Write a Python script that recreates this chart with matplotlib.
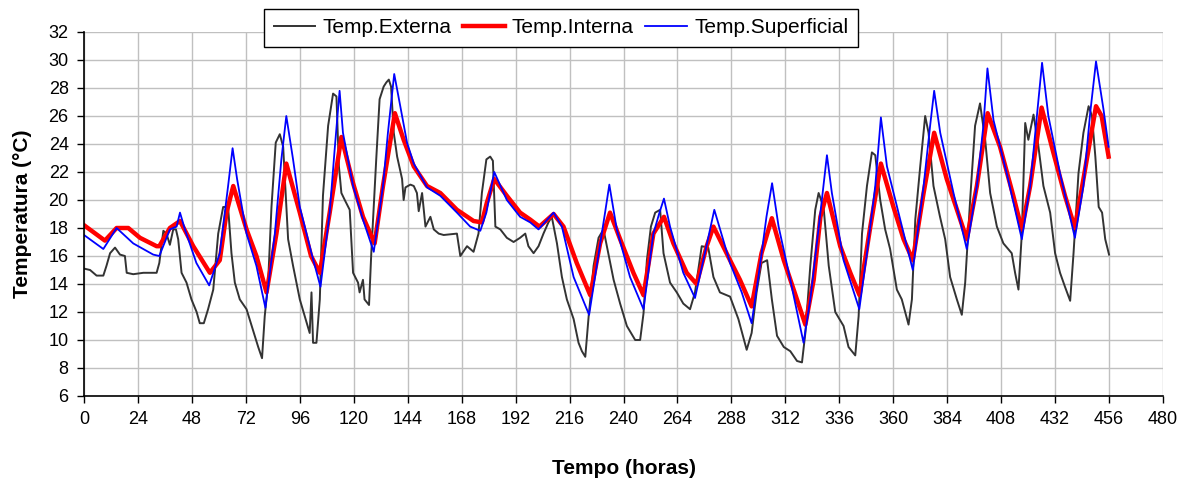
"""
Temperaturas externa, interna e superficial ao longo do tempo (horas).
"""

import matplotlib
matplotlib.use('Agg')
import matplotlib.pyplot as plt

# Temp.Externa: (hora, valor)
EXT_HOURS = [
    0, 2.7, 5.6, 8.6, 10, 11.6, 13.8, 16, 18.2, 19, 21.9, 26.4, 32.3, 33.5,
    35.3, 36.7, 38.2, 39.7, 40.9, 41.9, 43.4, 45.6, 47.8, 50.1, 51.5, 53.3,
    55.2, 57.5, 59.7, 61.9, 64.1, 65.6, 67.1, 69.3, 72.3, 75.2, 77.5, 79.2,
    80.4, 81.9, 83.4, 85.3, 87.1, 88.6, 90.8, 93, 96, 98.2, 100.4, 101.2,
    101.9, 103.4, 104.9, 106.3, 108.6, 110.8, 112.3, 113.4, 114.5, 116,
    118.2, 119.7, 121.9, 122.6, 124.1, 124.8, 126.8, 127.8, 130, 131.5,
    133.3, 134.5, 135.6, 136.6, 137.8, 139.3, 141.5, 142.2, 143, 145.2,
    146.7, 148.1, 148.9, 150.4, 151.9, 154.1, 155.6, 157.8, 160, 165.9,
    167.4, 170.4, 173.3, 175.5, 177, 179, 180.7, 181.9, 183, 185.2, 188.1,
    191.1, 194, 196.3, 197.7, 200, 202.2, 204.4, 206.6, 208.1, 210.4, 212.6,
    214.8, 217.8, 220, 221.5, 223, 224.5, 226.7, 228.9, 231.1, 232.6, 235.6,
    238.5, 241.5, 245.2, 247.4, 248.9, 250.4, 252.2, 254.1, 256.3, 257.8,
    260.7, 263.7, 266.6, 269.6, 271.8, 274.8, 277.7, 280, 282.9, 287.4,
    291.1, 294.8, 297, 299.2, 301.4, 303.9, 306, 308.3, 311.3, 314.2, 317.2,
    319.4, 320.9, 323.1, 325.3, 326.8, 329, 331.3, 334.2, 337.9, 340.1,
    343.1, 344.6, 346.1, 348.3, 350.5, 352, 354.2, 356.4, 358.6, 361.6,
    363.8, 366.8, 368.3, 369.8, 372, 374.2, 375.7, 377.9, 380.8, 383.1,
    385.3, 388.3, 390.5, 392, 394.2, 396.4, 398.6, 400.9, 403.1, 406.1, 409,
    412.7, 414.2, 415.7, 417.2, 418.7, 420.1, 422.4, 424.6, 426.8, 429.8,
    432, 434.2, 436.4, 438.7, 440.2, 442.4, 444.6, 446.9, 448.4, 449.9,
    451.4, 452.9, 454.3, 456,
]
EXT_VALUES = [
    15.1, 15.0, 14.6, 14.6, 15.3, 16.2, 16.6, 16.1, 16.0, 14.8, 14.7, 14.8,
    14.8, 15.5, 17.8, 17.6, 16.8, 17.9, 17.9, 17.2, 14.8, 14.1, 12.9, 12.0,
    11.2, 11.2, 12.2, 13.6, 17.6, 19.5, 19.5, 16.2, 14.1, 12.9, 12.2, 10.7,
    9.5, 8.7, 11.7, 14.1, 19.5, 24.1, 24.7, 23.8, 17.2, 15.3, 12.9, 11.7,
    10.5, 13.4, 9.8, 9.8, 12.9, 20.3, 25.3, 27.6, 27.4, 22.4, 20.5, 20.0,
    19.3, 14.8, 14.1, 13.4, 14.3, 12.9, 12.5, 16.2, 22.9, 27.2, 28.1, 28.4,
    28.6, 28.1, 24.8, 23.1, 21.5, 20.0, 20.9, 21.1, 21.0, 20.5, 19.2, 20.5,
    18.1, 18.8, 17.9, 17.6, 17.5, 17.6, 16.0, 16.7, 16.3, 17.6, 20.5, 22.9,
    23.1, 22.8, 18.1, 17.9, 17.3, 17.0, 17.3, 17.6, 16.7, 16.2, 16.7, 17.6,
    18.4, 18.8, 16.9, 14.5, 12.9, 11.5, 9.8, 9.2, 8.8, 11.7, 15.3, 17.3,
    17.9, 16.7, 14.3, 12.6, 11.0, 10.0, 10.0, 11.9, 15.7, 18.1, 19.1, 19.3,
    16.2, 14.1, 13.4, 12.6, 12.2, 13.4, 16.7, 16.6, 14.5, 13.4, 13.1, 11.5,
    9.3, 10.5, 13.4, 15.5, 15.7, 12.9, 10.3, 9.5, 9.2, 8.5, 8.4, 10.5, 15.3,
    19.3, 20.5, 19.5, 15.3, 12.0, 11.0, 9.5, 8.9, 11.7, 17.6, 21.0, 23.4,
    23.2, 20.0, 17.9, 16.5, 13.6, 12.9, 11.1, 12.9, 18.6, 22.4, 26.0, 24.8,
    21.0, 18.8, 17.2, 14.5, 12.9, 11.8, 14.1, 20.0, 25.3, 26.9, 24.3, 20.5,
    18.1, 16.9, 16.2, 14.8, 13.6, 17.6, 25.5, 24.3, 26.1, 23.8, 21.0, 19.1,
    16.2, 14.8, 13.8, 12.8, 16.2, 21.9, 24.8, 26.7, 26.0, 23.1, 19.5, 19.1,
    17.2, 16.1,
]

# Temp.Interna
INT_HOURS = [
    0, 9.3, 14.5, 19.7, 24.9, 32.3, 33.5, 38.2, 42.7, 48.6, 56, 60.4, 63.4,
    66.4, 72.3, 76.7, 81.2, 85.6, 90, 96, 101, 104.9, 109.3, 114.5, 119.7,
    124.1, 129.3, 133, 138.3, 142.2, 146.7, 152.6, 158.5, 165.9, 173.3, 177,
    179.2, 182.5, 188.1, 194, 198.5, 202.6, 208.9, 213.3, 219.2, 225.2,
    229.6, 234, 238.5, 244.4, 248.9, 253.3, 258, 262.2, 268.1, 272.5, 277,
    280, 287.4, 291.8, 297, 301.4, 306, 311.3, 315.7, 320.9, 324.6, 327.6,
    330.5, 336.4, 340.9, 345, 349.8, 354.5, 360.1, 364.6, 368.7, 373.5,
    378.2, 383.8, 389.8, 392.7, 397.2, 402, 407.5, 413.4, 417.2, 420.9, 426,
    431.2, 436.4, 440.8, 444.6, 450.2, 452.7, 455.8,
]
INT_VALUES = [
    18.2, 17.1, 18.0, 18.0, 17.3, 16.7, 16.7, 18.0, 18.5, 16.7, 14.8, 15.7,
    19.1, 21.0, 17.9, 16.0, 13.4, 17.6, 22.6, 19.1, 16.0, 14.8, 19.1, 24.5,
    21.2, 18.8, 16.9, 21.0, 26.2, 24.3, 22.4, 21.0, 20.5, 19.3, 18.5, 18.4,
    19.8, 21.5, 20.3, 19.1, 18.6, 18.1, 19.0, 18.1, 15.5, 13.2, 16.9, 19.1,
    17.2, 14.8, 13.2, 17.6, 18.8, 16.9, 14.8, 14.0, 16.7, 18.1, 15.7, 14.3,
    12.4, 16.2, 18.7, 15.7, 13.6, 11.1, 14.3, 18.8, 20.5, 16.7, 14.8, 13.2,
    18.1, 22.6, 19.5, 17.2, 15.7, 20.5, 24.8, 21.5, 18.6, 17.2, 21.0, 26.2,
    23.8, 20.3, 17.9, 21.0, 26.6, 23.4, 20.3, 18.0, 21.5, 26.7, 26.0, 23.1,
]

# Temp.Superficial
SUP_HOURS = [
    0, 8.6, 14.5, 21.9, 30.8, 33.5, 38.2, 41.2, 42.7, 44.9, 50, 55.7, 60.4,
    64.1, 66.1, 68.1, 72.3, 76.7, 80.7, 84.9, 87.8, 90, 93, 96, 101.2, 105.2,
    109.3, 111.5, 113.7, 115.2, 119.7, 124.1, 128.9, 133, 135.2, 138,
    140.7, 143.7, 146.7, 152.6, 158.5, 165.9, 171.8, 176.3, 179, 182.5,
    188.1, 194, 198.5, 202.2, 208.9, 212.6, 217.8, 224.7, 228.1, 231.8,
    233.7, 237, 242.9, 248.9, 253.3, 256, 258, 260.7, 266.6, 271.8, 276.2,
    280.4, 287.4, 292.6, 297, 300.7, 303.6, 306.1, 309, 314.2, 320.1, 323.1,
    327.6, 330.5, 332.7, 337.9, 344.9, 348.3, 352, 354.5, 357.2, 363.1,
    368.7, 373.5, 376.4, 378.2, 380.9, 386.8, 392.7, 397.2, 400.1, 401.9,
    404.6, 410.5, 417.2, 420.9, 423.9, 426.2, 429, 434.2, 440.8, 444.6,
    447.6, 450.2, 453.5, 455.8,
]
SUP_VALUES = [
    17.5, 16.5, 18.0, 16.9, 16.1, 16.0, 17.9, 18.1, 19.1, 17.9, 15.5, 13.9,
    16.2, 21.0, 23.7, 21.5, 17.6, 15.3, 12.3, 17.6, 22.9, 26.0, 22.9, 19.5,
    16.2, 13.8, 19.1, 23.6, 27.8, 24.8, 21.0, 18.6, 16.3, 21.0, 24.8, 29.0,
    26.7, 24.1, 22.6, 20.9, 20.3, 19.1, 18.1, 17.8, 19.1, 22.0, 20.0, 18.8,
    18.4, 17.9, 19.1, 18.1, 14.5, 11.8, 15.3, 19.1, 21.1, 17.9, 14.5, 12.2,
    17.6, 19.1, 20.1, 18.1, 14.8, 13.0, 16.2, 19.3, 15.5, 13.4, 11.2, 15.3,
    18.8, 21.2, 18.1, 14.3, 9.8, 12.9, 19.1, 23.2, 20.5, 15.7, 12.2, 16.2,
    21.0, 25.9, 22.4, 18.6, 15.0, 21.0, 25.3, 27.8, 24.8, 20.5, 16.5, 21.0,
    25.3, 29.4, 25.7, 21.9, 17.2, 21.0, 26.0, 29.8, 26.0, 21.9, 17.3, 21.0,
    26.2, 29.9, 26.5, 23.8,
]

X_TICKS = list(range(0, 481, 24))
Y_TICKS = list(range(6, 33, 2))


def main():
    plt.rcParams['font.family'] = ['Liberation Sans', 'DejaVu Sans']

    fig = plt.figure(figsize=(11.92, 4.83), dpi=100)
    ax = fig.add_axes([84 / 1192, 1 - 396 / 483, 1079 / 1192, 364 / 483])

    ax.plot(EXT_HOURS, EXT_VALUES, color='#333333', linewidth=1.4,
            label='Temp.Externa')
    ax.plot(INT_HOURS, INT_VALUES, color='#ff0000', linewidth=3.2,
            label='Temp.Interna')
    ax.plot(SUP_HOURS, SUP_VALUES, color='#0000ff', linewidth=1.3,
            label='Temp.Superficial')

    ax.set_xlim(0, 480)
    ax.set_ylim(6, 32)
    ax.set_xticks(X_TICKS)
    ax.set_yticks(Y_TICKS)
    ax.tick_params(labelsize=13, length=5, width=1, direction='out',
                   color='black', pad=6)
    ax.grid(True, color='#c0c0c0', linewidth=1)
    ax.set_axisbelow(True)

    # Only left and bottom axis lines are drawn in black
    for side in ('top', 'right'):
        ax.spines[side].set_visible(False)
    for side in ('left', 'bottom'):
        ax.spines[side].set_color('black')
        ax.spines[side].set_linewidth(1.2)

    ax.set_xlabel('Tempo (horas)', fontsize=15, fontweight='bold',
                  labelpad=22)
    ax.set_ylabel('Temperatura (°C)', fontsize=15, fontweight='bold',
                  labelpad=12)

    leg = ax.legend(loc='upper center', ncol=3,
                    bbox_to_anchor=(561 / 1192, 1 - 9 / 483),
                    bbox_transform=fig.transFigure,
                    fontsize=15, frameon=True, fancybox=False,
                    handlelength=2.0, handletextpad=0.35,
                    columnspacing=0.55, borderpad=0.45,
                    borderaxespad=0)
    leg.get_frame().set_edgecolor('black')
    leg.get_frame().set_linewidth(1)
    leg.get_frame().set_alpha(1)

    fig.savefig('out.png', dpi=100)


if __name__ == '__main__':
    main()
